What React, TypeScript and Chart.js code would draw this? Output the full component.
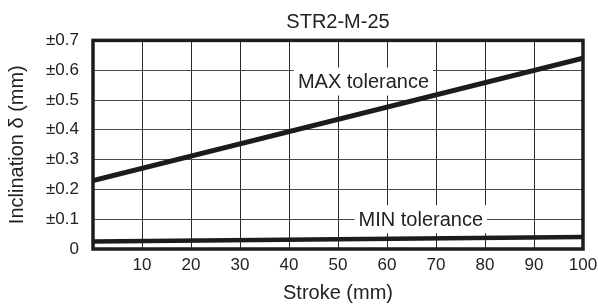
import React, { useEffect, useRef } from "react";
import { Chart, registerables } from "chart.js";

Chart.register(...registerables);

const strokes = [0, 100];
const maxTolerance = [0.23, 0.64];
const minTolerance = [0.025, 0.04];
const yTicks = [0, 0.1, 0.2, 0.3, 0.4, 0.5, 0.6, 0.7];
const xTicks = [10, 20, 30, 40, 50, 60, 70, 80, 90, 100];
const labelTexts = ["MAX tolerance", "MIN tolerance"];
const labelAnchors = [
  { x: 55.2, y: 0.562 },
  { x: 66.9, y: 0.1 },
];

const FONT = "'Liberation Sans', Arial, Helvetica, sans-serif";
const INK = "#1c1c1c";

const labelsPlugin = {
  id: "tolLabels",
  beforeDatasetsDraw(chart: any) {
    const { ctx, scales } = chart;
    ctx.save();
    ctx.font = `20px ${FONT}`;
    ctx.textAlign = "center";
    ctx.textBaseline = "middle";
    labelTexts.forEach((t, i) => {
      const px = scales.x.getPixelForValue(labelAnchors[i].x);
      const py = scales.y.getPixelForValue(labelAnchors[i].y);
      const w = ctx.measureText(t).width + 8;
      const h = 28;
      ctx.fillStyle = "#ffffff";
      ctx.fillRect(px - w / 2, py - h / 2, w, h);
      ctx.fillStyle = "#222";
      ctx.fillText(t, px, py + 1);
    });
    ctx.restore();
  },
  afterDraw(chart: any) {
    const { ctx, chartArea } = chart;
    ctx.save();
    ctx.strokeStyle = INK;
    ctx.lineWidth = 3.5;
    ctx.strokeRect(
      chartArea.left,
      chartArea.top,
      chartArea.right - chartArea.left,
      chartArea.bottom - chartArea.top
    );
    ctx.restore();
  },
};

export default function App() {
  const ref = useRef<HTMLCanvasElement>(null);
  useEffect(() => {
    if (!ref.current) return;
    const chart = new Chart(ref.current, {
      type: "line",
      data: {
        datasets: [
          {
            label: "MAX",
            data: strokes.map((s, i) => ({ x: s, y: maxTolerance[i] })),
            borderColor: INK,
            borderWidth: 5,
            pointRadius: 0,
            fill: false,
          },
          {
            label: "MIN",
            data: strokes.map((s, i) => ({ x: s, y: minTolerance[i] })),
            borderColor: INK,
            borderWidth: 4.5,
            pointRadius: 0,
            fill: false,
          },
        ],
      },
      options: {
        responsive: false,
        animation: false,
        layout: { padding: { left: 0, right: 15, top: 0, bottom: 0 } },
        plugins: {
          legend: { display: false },
          tooltip: { enabled: false },
          title: {
            display: true,
            text: "STR2-M-25",
            fullSize: false,
            color: "#222",
            font: { family: FONT, size: 20, weight: "normal" },
            padding: { top: 10, bottom: 6.4 },
          },
        },
        scales: {
          x: {
            type: "linear",
            min: 0,
            max: 100,
            afterBuildTicks: (scale: any) => {
              scale.ticks = [0, ...xTicks].map((v) => ({ value: v }));
            },
            afterFit: (scale: any) => {
              scale.height = 56;
              scale.paddingLeft = 0;
              scale.paddingRight = 0;
            },
            ticks: {
              color: "#222",
              font: { family: FONT, size: 17 },
              padding: 6,
              maxRotation: 0,
              autoSkip: false,
              callback: (v: any) => (v === 0 ? "" : String(v)),
            },
            grid: { color: "#2a2a2a", lineWidth: 1, drawTicks: false },
            border: { display: false },
            title: {
              display: true,
              text: "Stroke (mm)",
              color: "#222",
              font: { family: FONT, size: 20 },
              padding: { top: 0, bottom: 0 },
            },
          },
          y: {
            type: "linear",
            min: 0,
            max: 0.7,
            afterBuildTicks: (scale: any) => {
              scale.ticks = yTicks.map((v) => ({ value: v }));
            },
            afterFit: (scale: any) => {
              scale.width = 93;
              scale.paddingTop = 0;
              scale.paddingBottom = 0;
            },
            ticks: {
              color: "#222",
              font: { family: FONT, size: 17 },
              padding: 14,
              autoSkip: false,
              callback: (v: any) =>
                Math.abs(v) < 1e-9 ? "0" : "±" + Number(v).toFixed(1),
            },
            grid: { color: "#4a4a4a", lineWidth: 1, drawTicks: false },
            border: { display: false },
            title: {
              display: true,
              text: "Inclination δ (mm)",
              color: "#222",
              font: { family: FONT, size: 20 },
              padding: { top: 5.5, bottom: 0 },
            },
          },
        },
      },
      plugins: [labelsPlugin],
    } as any);
    return () => chart.destroy();
  }, []);
  return (
    <div style={{ position: "fixed", left: 0, top: 0, width: 598, height: 305, background: "#fff" }}>
      <canvas ref={ref} width={598} height={305} style={{ width: 598, height: 305 }} />
    </div>
  );
}
